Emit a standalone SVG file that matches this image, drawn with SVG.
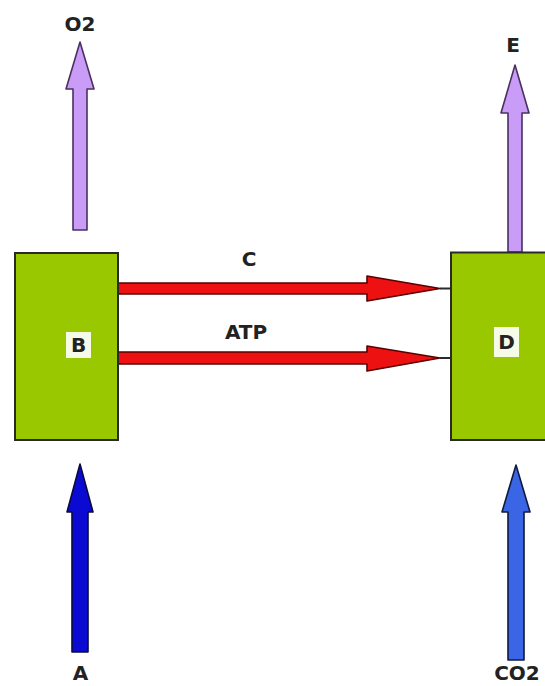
<svg xmlns="http://www.w3.org/2000/svg" width="545" height="686" viewBox="0 0 545 686">
  <style>
    .lbl { font-family: "DejaVu Sans", Verdana, sans-serif; font-weight: bold; font-size: 20px; fill: #222; text-anchor: middle; }
    .box { fill: #99c800; stroke: #2a2a2a; stroke-width: 2; }
    .tag { fill: #f6fbe8; }
    .purple { fill: #c99cf7; stroke: #4a3060; stroke-width: 1.6; stroke-linejoin: round; }
    .red { fill: #ee1111; stroke: #5a0000; stroke-width: 1.6; stroke-linejoin: round; }
    .navy { fill: #0a0ad2; stroke: #0a0a40; stroke-width: 1.6; stroke-linejoin: round; }
    .blue { fill: #3a66e6; stroke: #101a40; stroke-width: 1.6; stroke-linejoin: round; }
    .tail { stroke: #2a2a2a; stroke-width: 2; fill: none; }
  </style>
  <rect width="545" height="686" fill="#ffffff"/>
  <g id="connectors">
    <polygon class="purple" points="80,42 94,89 87,89 87,230 73,230 73,89 66,89"/>
    <polygon class="purple" points="515,65 529,113 522,113 522,252 508,252 508,113 501,113"/>
    <polygon class="navy" points="80,464 93,512 88,512 88,652 72,652 72,512 67,512"/>
    <polygon class="blue" points="516,465 530,512 524,512 524,660 508,660 508,512 502,512"/>
    <polygon class="red" points="118,283 367,283 367,276 440,288.5 367,301 367,294 118,294"/>
    <line class="tail" x1="440" y1="288.5" x2="450" y2="288.5"/>
    <polygon class="red" points="118,352 367,352 367,346 440,358 367,371 367,364 118,364"/>
    <line class="tail" x1="440" y1="358" x2="450" y2="358"/>
    <text class="lbl" x="249" y="266">C</text>
    <text class="lbl" x="246" y="339">ATP</text>
  </g>
  <g id="node-B">
    <rect class="box" x="15" y="253" width="103" height="187"/>
    <rect class="tag" x="66" y="332" width="25" height="26"/>
    <text class="lbl" x="78.5" y="352">B</text>
  </g>
  <g id="node-D">
    <rect class="box" x="451" y="252.5" width="100" height="187.5"/>
    <rect class="tag" x="494" y="327" width="25" height="30"/>
    <text class="lbl" x="506.5" y="349">D</text>
  </g>
  <g id="label-O2"><text class="lbl" x="80" y="31">O2</text></g>
  <g id="label-E"><text class="lbl" x="513" y="52">E</text></g>
  <g id="label-A"><text class="lbl" x="80.5" y="680">A</text></g>
  <g id="label-CO2"><text class="lbl" x="517" y="680">CO2</text></g>
</svg>
